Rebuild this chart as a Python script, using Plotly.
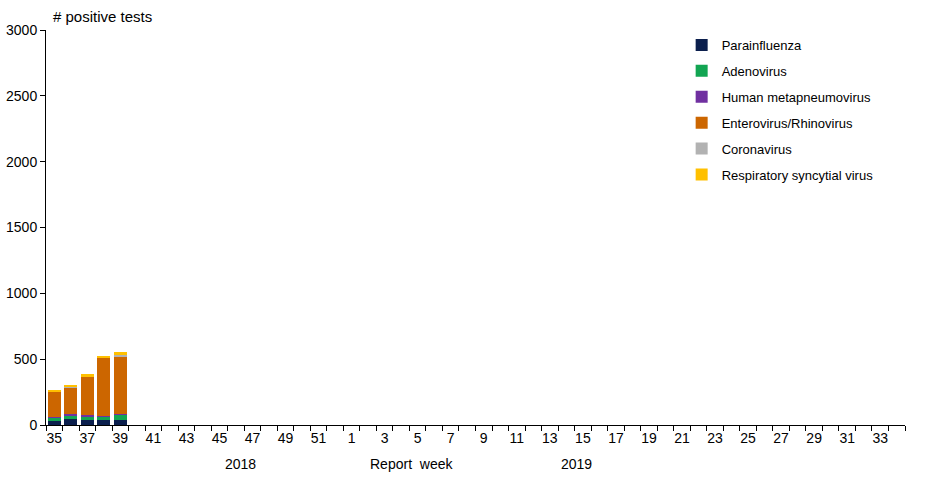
import plotly.graph_objects as go

# report weeks, season 2018/2019
weeks = [str(w) for w in range(35, 53)] + [str(w) for w in range(1, 35)]

# number of positive tests per virus (only first five weeks reported)
parainfluenza = [30, 45, 38, 38, 38]
adenovirus = [25, 30, 30, 30, 38]
metapneumovirus = [8, 5, 8, 4, 8]
entero_rhino = [192, 207, 292, 437, 437]
coronavirus = [2, 2, 3, 3, 10]
rsv = [8, 8, 14, 14, 20]

series = [
    ("Parainfluenza", parainfluenza, "#0b1f4d"),
    ("Adenovirus", adenovirus, "#12a552"),
    ("Human metapneumovirus", metapneumovirus, "#7030a0"),
    ("Enterovirus/Rhinovirus", entero_rhino, "#cc6600"),
    ("Coronavirus", coronavirus, "#b2b2b2"),
    ("Respiratory syncytial virus", rsv, "#ffc000"),
]

x_idx = list(range(len(weeks)))
tick_idx = x_idx[::2]
tick_txt = weeks[::2]

fig = go.Figure()
for name, values, colour in series:
    fig.add_trace(go.Bar(x=x_idx[:len(values)], y=values, name=name, marker_color=colour,
                         marker_line_width=0, legendgroup=name))

fig.update_layout(
    barmode="stack", bargap=0.2,
    width=933, height=478,
    margin=dict(l=46, r=28, t=30, b=53),
    plot_bgcolor="white", paper_bgcolor="white",
    font=dict(family="Liberation Sans, Arial, sans-serif", size=14, color="black"),
    showlegend=True,
    legend=dict(x=0.740, y=1.0, xanchor="left", yanchor="top", font=dict(size=13),
                tracegroupgap=6, bgcolor="rgba(0,0,0,0)"),
)
fig.update_xaxes(
    range=[-0.5, len(weeks) - 0.5], tickmode="array", tickvals=tick_idx, ticktext=tick_txt,
    ticks="", showline=True, linecolor="black", linewidth=1, showgrid=False, zeroline=False,
    automargin=False,
    minor=dict(ticks="outside", tick0=-0.5, dtick=1, ticklen=5, tickcolor="black", showgrid=False),
)
fig.update_yaxes(
    range=[0, 3000], dtick=500, ticks="outside", ticklen=5, tickcolor="black",
    showline=True, linecolor="black", linewidth=1, showgrid=False, zeroline=False,
    automargin=False,
)

fig.add_annotation(text="# positive tests", x=0, y=1.033, xref="paper", yref="paper",
                   xanchor="left", yanchor="middle", showarrow=False, font=dict(size=15), xshift=5)
for txt, xpos in [("2018", 11.3), ("Report  week", 21.6), ("2019", 31.6)]:
    fig.add_annotation(text=txt, x=xpos, y=-0.099, xref="x", yref="paper",
                       yanchor="middle", showarrow=False, font=dict(size=14))

fig.write_html("out.html", config={"displayModeBar": False},
               post_script="document.body.style.margin='0';")
